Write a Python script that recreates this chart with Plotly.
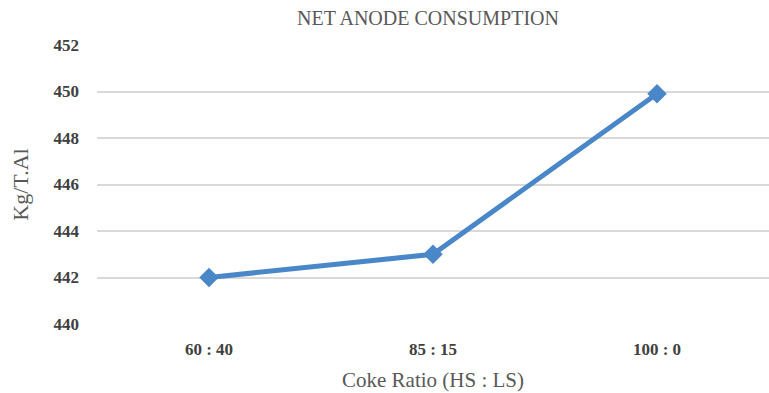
import plotly.graph_objects as go

# Net anode consumption by coke blend
coke_ratios = ["60 : 40", "85 : 15", "100 : 0"]
consumption = [442.0, 443.0, 449.9]
y_ticks = [440, 442, 444, 446, 448, 450, 452]

serif = "Liberation Serif, Times New Roman, serif"

fig = go.Figure()
fig.add_trace(go.Scatter(
    x=list(range(len(coke_ratios))),
    y=consumption,
    mode="lines+markers",
    line=dict(color="#4A87C8", width=5),
    marker=dict(symbol="diamond", size=15, color="#4A87C8"),
    showlegend=False,
))

fig.update_layout(
    width=769, height=393,
    margin=dict(l=97, r=0, t=45, b=69),
    paper_bgcolor="white", plot_bgcolor="white",
    title=dict(text="NET ANODE CONSUMPTION", x=428 / 769, xanchor="center",
               y=1 - 18 / 393, yanchor="middle",
               font=dict(family=serif, size=20, color="#595959")),
    xaxis=dict(
        tickmode="array",
        tickvals=list(range(len(coke_ratios))),
        ticktext=coke_ratios,
        range=[-0.5, 2.5],
        showgrid=False, zeroline=False, showline=False,
        ticks="", ticklabelstandoff=13,
        tickfont=dict(family=serif, size=17, color="#404040", weight="bold"),
        title=dict(text="Coke Ratio (HS : LS)", standoff=14,
                   font=dict(family=serif, size=21, color="#595959")),
    ),
    yaxis=dict(
        range=[440, 452],
        tickvals=y_ticks,
        showgrid=True, gridcolor="#D9D9D9", gridwidth=2,
        zeroline=False, showline=False, ticks="",
        ticklabelstandoff=17,
        tickfont=dict(family=serif, size=17, color="#404040", weight="bold"),
        title=dict(text="Kg/T.Al", standoff=18,
                   font=dict(family=serif, size=22, color="#595959")),
    ),
)

fig.write_html("out.html")
